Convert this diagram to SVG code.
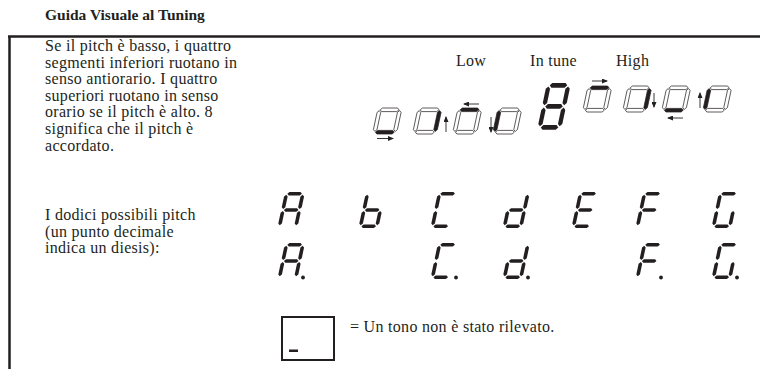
<svg xmlns="http://www.w3.org/2000/svg" width="760" height="369" viewBox="0 0 760 369">
<defs>
<style>
.t{font-family:"Liberation Serif","Times New Roman",serif;font-size:16px;letter-spacing:0.3px;fill:#231f20}
.title{font-weight:bold;font-size:15.5px;letter-spacing:0}
.s{fill:#231f20}
.r{fill:#fff;stroke:#231f20;stroke-width:0.7}
.r.on{fill:#231f20}
.arr{stroke:#231f20;stroke-width:0.9;fill:none;marker-end:url(#ah)}
.frame{stroke:#231f20;stroke-width:2.5;fill:none}
</style>
<marker id="ah" markerWidth="6" markerHeight="5" refX="5" refY="2.5" orient="auto" markerUnits="userSpaceOnUse"><path d="M0,0 L6,2.5 L0,5 Z" fill="#231f20"/></marker>
<polygon id="sa" points="2.7,1.8 4.5,0 15.5,0 17.3,1.8 15.5,3.6 4.5,3.6"/>
<polygon id="sg" points="2.7,18 4.5,16.2 15.5,16.2 17.3,18 15.5,19.8 4.5,19.8"/>
<polygon id="sd" points="2.7,34.2 4.5,32.4 15.5,32.4 17.3,34.2 15.5,36 4.5,36"/>
<polygon id="sf" points="1.8,2.7 3.6,4.5 3.6,15.3 1.8,17.1 0,15.3 0,4.5"/>
<polygon id="sb" points="18.2,2.7 20,4.5 20,15.3 18.2,17.1 16.4,15.3 16.4,4.5"/>
<polygon id="se" points="1.8,18.9 3.6,20.7 3.6,31.5 1.8,33.3 0,31.5 0,20.7"/>
<polygon id="sc" points="18.2,18.9 20,20.7 20,31.5 18.2,33.3 16.4,31.5 16.4,20.7"/>
<g id="gA"><use href="#sa"/><use href="#sb"/><use href="#sc"/><use href="#se"/><use href="#sf"/><use href="#sg"/></g>
<g id="gb"><use href="#sc"/><use href="#sd"/><use href="#se"/><use href="#sf"/><use href="#sg"/></g>
<g id="gC"><use href="#sa"/><use href="#sd"/><use href="#se"/><use href="#sf"/></g>
<g id="gd"><use href="#sb"/><use href="#sc"/><use href="#sd"/><use href="#se"/><use href="#sg"/></g>
<g id="gE"><use href="#sa"/><use href="#sd"/><use href="#se"/><use href="#sf"/><use href="#sg"/></g>
<g id="gF"><use href="#sa"/><use href="#se"/><use href="#sf"/><use href="#sg"/></g>
<g id="gG"><use href="#sa"/><use href="#sc"/><use href="#sd"/><use href="#se"/><use href="#sf"/></g>
<g id="g8"><use href="#sa"/><use href="#sb"/><use href="#sc"/><use href="#sd"/><use href="#se"/><use href="#sf"/><use href="#sg"/></g>
<polygon id="rt" points="2.6,1.8 4.4,0 19.6,0 21.4,1.8 19.6,3.6 4.4,3.6"/>
<polygon id="rb" points="2.6,24.2 4.4,22.4 19.6,22.4 21.4,24.2 19.6,26 4.4,26"/>
<polygon id="rl" points="1.8,2.6 3.6,4.4 3.6,21.6 1.8,23.4 0,21.6 0,4.4"/>
<polygon id="rr" points="22.2,2.6 24,4.4 24,21.6 22.2,23.4 20.4,21.6 20.4,4.4"/>
</defs>

<g id="frame"><path class="frame" d="M8,36.5 H760 M9.5,35.5 V369"/></g>

<g id="title"><text class="t title" x="45" y="20">Guida Visuale al Tuning</text></g>

<g id="desc1">
<text class="t" x="45" y="51">Se il pitch è basso, i quattro</text>
<text class="t" x="45" y="67.6">segmenti inferiori ruotano in</text>
<text class="t" x="45" y="84.2">senso antiorario. I quattro</text>
<text class="t" x="45" y="100.8">superiori ruotano in senso</text>
<text class="t" x="45" y="117.4">orario se il pitch è alto. 8</text>
<text class="t" x="45" y="134">significa che il pitch è</text>
<text class="t" x="45" y="150.6">accordato.</text>
</g>

<g id="labels">
<text class="t" x="456" y="66">Low</text>
<text class="t" x="530" y="66">In tune</text>
<text class="t" x="616" y="66">High</text>
</g>

<g id="low1" transform="translate(378,108) skewX(-12)"><use href="#rt" class="r"/><use href="#rr" class="r"/><use href="#rb" class="r on"/><use href="#rl" class="r"/></g>
<g id="low2" transform="translate(418,108) skewX(-12)"><use href="#rt" class="r"/><use href="#rr" class="r on"/><use href="#rb" class="r"/><use href="#rl" class="r"/></g>
<g id="low3" transform="translate(458,108) skewX(-12)"><use href="#rt" class="r on"/><use href="#rr" class="r"/><use href="#rb" class="r"/><use href="#rl" class="r"/></g>
<g id="low4" transform="translate(498,108) skewX(-12)"><use href="#rt" class="r"/><use href="#rr" class="r"/><use href="#rb" class="r"/><use href="#rl" class="r on"/></g>
<g id="intune"><use href="#g8" class="s" transform="translate(547,83) skewX(-12) scale(1.2,1.3)"/></g>
<g id="high1" transform="translate(588,86) skewX(-12)"><use href="#rt" class="r on"/><use href="#rr" class="r"/><use href="#rb" class="r"/><use href="#rl" class="r"/></g>
<g id="high2" transform="translate(628,86) skewX(-12)"><use href="#rt" class="r"/><use href="#rr" class="r on"/><use href="#rb" class="r"/><use href="#rl" class="r"/></g>
<g id="high3" transform="translate(667,86) skewX(-12)"><use href="#rt" class="r"/><use href="#rr" class="r"/><use href="#rb" class="r on"/><use href="#rl" class="r"/></g>
<g id="high4" transform="translate(708,86) skewX(-12)"><use href="#rt" class="r"/><use href="#rr" class="r"/><use href="#rb" class="r"/><use href="#rl" class="r on"/></g>

<g id="connectors">
<line class="arr" x1="377" y1="138.5" x2="393" y2="138.5"/>
<line class="arr" x1="446" y1="132" x2="446" y2="117"/>
<line class="arr" x1="479" y1="104" x2="464" y2="104"/>
<line class="arr" x1="491" y1="117" x2="491" y2="132"/>
<line class="arr" x1="592" y1="81" x2="607" y2="81"/>
<line class="arr" x1="654" y1="93" x2="654" y2="107"/>
<line class="arr" x1="683" y1="118" x2="668" y2="118"/>
<line class="arr" x1="700" y1="108" x2="700" y2="93"/>
</g>

<g id="desc2">
<text class="t" x="45" y="220">I dodici possibili pitch</text>
<text class="t" x="45" y="236.6">(un punto decimale</text>
<text class="t" x="45" y="253.2">indica un diesis):</text>
</g>

<g id="pitches1">
<use href="#gA" class="s" transform="translate(285,192) skewX(-12)"/>
<use href="#gb" class="s" transform="translate(366,192) skewX(-12)"/>
<use href="#gC" class="s" transform="translate(438,192) skewX(-12)"/>
<use href="#gd" class="s" transform="translate(510,192) skewX(-12)"/>
<use href="#gE" class="s" transform="translate(579,192) skewX(-12)"/>
<use href="#gF" class="s" transform="translate(643,192) skewX(-12)"/>
<use href="#gG" class="s" transform="translate(719,192) skewX(-12)"/>
</g>
<g id="pitches2">
<use href="#gA" class="s" transform="translate(285,243) skewX(-12)"/>
<circle class="s" cx="303" cy="277.5" r="1.9"/>
<use href="#gC" class="s" transform="translate(438,243) skewX(-12)"/>
<circle class="s" cx="456" cy="277.5" r="1.9"/>
<use href="#gd" class="s" transform="translate(510,243) skewX(-12)"/>
<circle class="s" cx="528" cy="277.5" r="1.9"/>
<use href="#gF" class="s" transform="translate(643,243) skewX(-12)"/>
<circle class="s" cx="661" cy="277.5" r="1.9"/>
<use href="#gG" class="s" transform="translate(719,243) skewX(-12)"/>
<circle class="s" cx="737" cy="277.5" r="1.9"/>
</g>

<g id="nodetect">
<rect x="282" y="317" width="52" height="43" fill="#fff" stroke="#231f20" stroke-width="2"/>
<rect x="289" y="349.5" width="9" height="2.5" class="s"/>
<text class="t" x="350" y="332">= Un tono non è stato rilevato.</text>
</g>
</svg>
